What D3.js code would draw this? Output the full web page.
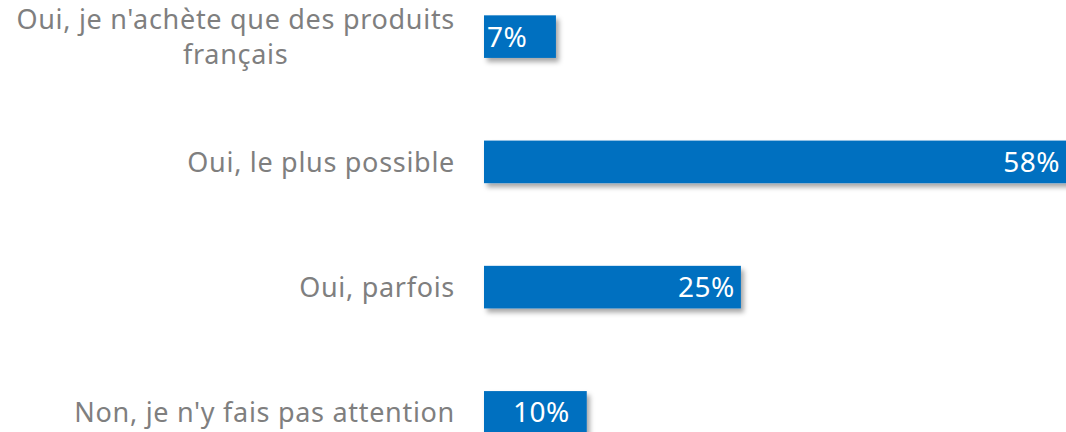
<!DOCTYPE html>
<meta charset="utf-8">
<script src="https://d3js.org/d3.v7.min.js"></script>
<style>
    body { margin: 0; background: #fff; }
</style>
<div id="base"></div>
<script>
    // chart data
    var categories = [
        ["Oui, je n'achète que des produits", "français"],
        ["Oui, le plus possible"],
        ["Oui, parfois"],
        ["Non, je n'y fais pas attention"]
    ];
    var values = [7, 58, 25, 10];
    var valueLabels = ["7%", "58%", "25%", "10%"];
    var labelAnchors = ["start", "end", "end", "middle"];

    var width = 1066,
        height = 432,
        left = 484;

    var svg = d3.select("#base")
        .append("svg")
        .attr("width", width)
        .attr("height", height);

    var defs = svg.append("defs");
    defs.append("filter")
        .attr("id", "shadow")
        .attr("x", "-10%").attr("y", "-30%")
        .attr("width", "130%").attr("height", "180%")
        .append("feDropShadow")
        .attr("dx", 3)
        .attr("dy", 4)
        .attr("stdDeviation", 2.5)
        .attr("flood-color", "#000")
        .attr("flood-opacity", 0.35);

    var x = d3.scaleLinear()
        .domain([0, 58])
        .range([left, 1080]);

    var y = d3.scaleBand()
        .domain(d3.range(categories.length))
        .range([-26, 475])
        .paddingInner(0.66)
        .paddingOuter(0.33);

    var rows = svg.selectAll(".row")
        .data(values)
        .enter()
        .append("g")
        .attr("class", "row");

    rows.append("rect")
        .attr("x", x(0))
        .attr("y", function (d, i) { return y(i); })
        .attr("width", function (d) { return x(d) - x(0); })
        .attr("height", y.bandwidth())
        .attr("fill", "#0070C0")
        .attr("filter", "url(#shadow)");

    rows.append("text")
        .attr("x", function (d, i) {
            if (labelAnchors[i] == "start") return x(0) + 3;
            if (labelAnchors[i] == "end") return Math.min(x(d), width) - 6;
            return (x(0) + x(d)) / 2 + 6;
        })
        .attr("y", function (d, i) { return y(i) + y.bandwidth() / 2; })
        .attr("dy", "0.36em")
        .attr("text-anchor", function (d, i) { return labelAnchors[i]; })
        .attr("font-family", "'Noto Sans', sans-serif")
        .attr("font-size", "28px")
        .attr("letter-spacing", "0.5px")
        .attr("fill", "#fff")
        .text(function (d, i) { return valueLabels[i]; });

    // category labels
    var cats = svg.selectAll(".cat")
        .data(categories)
        .enter()
        .append("text")
        .attr("class", "cat")
        .attr("text-anchor", "middle")
        .attr("font-family", "'Noto Sans', sans-serif")
        .attr("font-size", "27px")
        .attr("letter-spacing", "0.7px")
        .attr("fill", "#7f7f7f");

    cats.each(function (lines, i) {
        var t = d3.select(this);
        var cy = y(i) + y.bandwidth() / 2;
        var lh = 35;
        var w = 0;
        lines.forEach(function (s, j) {
            t.append("tspan")
                .attr("y", cy + (j - (lines.length - 1) / 2) * lh)
                .attr("dy", "0.36em")
                .text(s);
        });
        // right-align the block, center lines within it
        var tsp = t.selectAll("tspan");
        tsp.each(function () { w = Math.max(w, this.getComputedTextLength()); });
        tsp.attr("x", 455 - w / 2);
    });
</script>
